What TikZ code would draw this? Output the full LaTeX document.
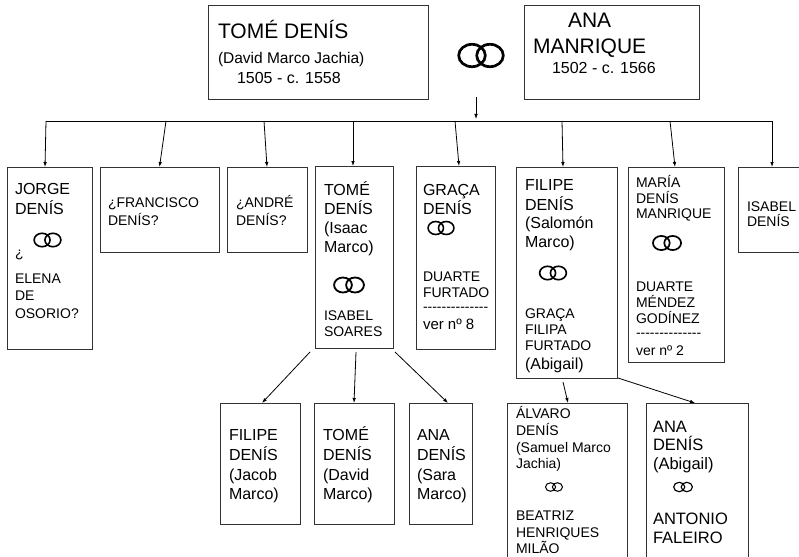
\documentclass[tikz,border=0pt]{standalone}
\usepackage{fontspec}
\setmainfont{Liberation Sans}
\usetikzlibrary{arrows.meta}
\tikzset{
  box/.style={draw=black!80, line width=0.9pt, inner sep=0pt, outer sep=0pt},
  tl/.style={anchor=base west, inner sep=0pt, outer sep=0pt, text=black},
  arr/.style={draw=black, line width=0.8pt, -{Latex[length=5pt,width=3.6pt]}},
  conn/.style={draw=black, line width=0.8pt}
}
\newcommand\fs[1]{\fontsize{#1}{#1}\selectfont}
\newcommand\hy{\hbox{-}}
\newcommand\dashrow{\hy\hy\hy\hy\hy\hy\hy\hy\hy\hy\hy\hy\hy\hy}
\newcommand\wedrings[3]{%
  \draw[line width=#3*2.7pt] (#1-#3*9,#2) ellipse [x radius=#3*13.3pt, y radius=#3*11.2pt];
  \draw[line width=#3*2.7pt] (#1+#3*9,#2) ellipse [x radius=#3*13.3pt, y radius=#3*11.2pt];
}
\begin{document}
\begin{tikzpicture}[x=1pt,y=-1pt]
\useasboundingbox (0,0) rectangle (799,556);
\fill[white] (0,0) rectangle (799,556);
\clip (0,0) rectangle (799,556);

% parents
\node[box, minimum width=220pt, minimum height=94pt] (tome) at (318,52) {};
\node[tl,font=\fs{21}] (tome1) at (218,39) {TOMÉ DENÍS};
\node[tl,font=\fs{15.5}] (tome2) at (218,64) {(David Marco Jachia)};
\node[tl,font=\fs{16}] (tome3) at (237,84) {1505 - c. 1558};

\node[box, minimum width=175pt, minimum height=94pt] (ana) at (611.5,52) {};
\node[tl,font=\fs{21}] (ana1) at (568,28) {ANA};
\node[tl,font=\fs{21}] (ana2) at (533,54) {MANRIQUE};
\node[tl,font=\fs{16}] (ana3) at (552,74) {1502 - c. 1566};

\wedrings{481}{55.5}{1}

% children boxes
\node[box, minimum width=85pt, minimum height=182pt] (jorge) at (49.5,258) {};
\node[box, minimum width=119pt, minimum height=85pt] (fran) at (159.5,209.5) {};
\node[box, minimum width=80pt, minimum height=85pt] (andre) at (267,209.5) {};
\node[box, minimum width=78pt, minimum height=182pt] (tomec) at (354,257) {};
\node[box, minimum width=79pt, minimum height=183pt] (graca) at (455.5,257.5) {};
\node[box, minimum width=101pt, minimum height=211pt] (filipe) at (566.5,272.5) {};
\node[box, minimum width=96pt, minimum height=195pt] (maria) at (676,264.5) {};
\node[box, minimum width=72pt, minimum height=85pt] (isabel) at (774,209.5) {};

% grandchildren boxes
\node[box, minimum width=80pt, minimum height=121pt] (gfilipe) at (260,463.5) {};
\node[box, minimum width=80pt, minimum height=121pt] (gtome) at (354,463.5) {};
\node[box, minimum width=63pt, minimum height=121pt] (gana) at (440.5,463.5) {};
\node[box, minimum width=120pt, minimum height=167pt] (alvaro) at (567,486.5) {};
\node[box, minimum width=102pt, minimum height=167pt] (anad) at (697,486.5) {};

% connectors
\coordinate (pa) at (476,97);
\coordinate (pb) at (476,119);
\draw[arr] (pa) -- (pb);
\coordinate (hl) at (46,121);
\coordinate (hr) at (772,121);
\draw[conn] (hl) -- (hr);
\coordinate (c2) at (166,121);
\coordinate (c3) at (264,121);
\coordinate (c4) at (353,121);
\coordinate (c5) at (455,121);
\coordinate (c6) at (562,121);
\coordinate (c7) at (670,121);
\draw[arr] (hl) -- ([xshift=-4.5pt]jorge.north);
\draw[arr] (c2) -- (fran.north);
\draw[arr] (c3) -- (andre.north);
\draw[arr] (c4) -- ([xshift=-1pt]tomec.north);
\draw[arr] (c5) -- ([xshift=3.5pt]graca.north);
\draw[arr] (c6) -- ([xshift=-3.5pt]filipe.north);
\draw[arr] (c7) -- ([xshift=-1pt]maria.north);
\draw[arr] (hr) -- ([xshift=-2pt]isabel.north);

\coordinate (t1) at (310,352);
\coordinate (t2) at (356,352);
\coordinate (t3) at (395,352);
\draw[arr] (t1) -- ([xshift=2pt]gfilipe.north);
\draw[arr] (t2) -- (gtome.north);
\draw[arr] (t3) -- ([xshift=7.5pt]gana.north);
\coordinate (f1) at (563,382);
\coordinate (f2) at (618,378);
\draw[arr] (f1) -- ([xshift=1pt]alvaro.north);
\draw[arr] (f2) -- ([xshift=-2pt]anad.north);

% JORGE
\node[tl,font=\fs{16}] (j1) at (15,194) {JORGE};
\node[tl,font=\fs{16}] (j2) at (15,214) {DENÍS};
\wedrings{47.5}{240}{0.6}
\node[tl,font=\fs{14}] (j3) at (15,257) {¿};
\node[tl,font=\fs{14}] (j4) at (15,283) {ELENA};
\node[tl,font=\fs{14}] (j5) at (15,300) {DE};
\node[tl,font=\fs{14}] (j6) at (15,318) {OSORIO?};

% FRANCISCO, ANDRE
\node[tl,font=\fs{14}] (fr1) at (108,207) {¿FRANCISCO};
\node[tl,font=\fs{14}] (fr2) at (108,225) {DENÍS?};
\node[tl,font=\fs{14}] (an1) at (236,207) {¿ANDRÉ};
\node[tl,font=\fs{14}] (an2) at (236,225) {DENÍS?};

% TOME child
\node[tl,font=\fs{16}] (tc1) at (324,195) {TOMÉ};
\node[tl,font=\fs{16}] (tc2) at (324,214) {DENÍS};
\node[tl,font=\fs{16}] (tc3) at (324,233) {(Isaac};
\node[tl,font=\fs{16}] (tc4) at (324,252) {Marco)};
\wedrings{349}{285}{0.67}
\node[tl,font=\fs{14}] (tc5) at (324,320) {ISABEL};
\node[tl,font=\fs{14}] (tc6) at (324,336) {SOARES};

% GRACA
\node[tl,font=\fs{16}] (g1) at (423,195) {GRAÇA};
\node[tl,font=\fs{16}] (g2) at (423,214) {DENÍS};
\wedrings{441}{228}{0.58}
\node[tl,font=\fs{14}] (g3) at (423,281) {DUARTE};
\node[tl,font=\fs{14}] (g4) at (423,297) {FURTADO};
\node[tl,font=\fs{14}] (g5) at (423,311) {\dashrow};
\node[tl,font=\fs{15}] (g6) at (423,329) {ver nº 8};

% FILIPE
\node[tl,font=\fs{16}] (fi1) at (525,190) {FILIPE};
\node[tl,font=\fs{16}] (fi2) at (525,210) {DENÍS};
\node[tl,font=\fs{16}] (fi3) at (525,228) {(Salomón};
\node[tl,font=\fs{16}] (fi4) at (525,247) {Marco)};
\wedrings{553}{273}{0.6}
\node[tl,font=\fs{14}] (fi5) at (525,318) {GRAÇA};
\node[tl,font=\fs{14}] (fi6) at (525,334) {FILIPA};
\node[tl,font=\fs{14}] (fi7) at (525,350) {FURTADO};
\node[tl,font=\fs{16}] (fi8) at (525,369) {(Abigail)};

% MARIA
\node[tl,font=\fs{14}] (m1) at (636,187) {MARÍA};
\node[tl,font=\fs{14}] (m2) at (636,203) {DENÍS};
\node[tl,font=\fs{14}] (m3) at (636,218) {MANRIQUE};
\wedrings{667}{243}{0.63}
\node[tl,font=\fs{14}] (m4) at (636,291) {DUARTE};
\node[tl,font=\fs{14}] (m5) at (636,307) {MÉNDEZ};
\node[tl,font=\fs{14}] (m6) at (636,323) {GODÍNEZ};
\node[tl,font=\fs{14}] (m7) at (636,337) {\dashrow};
\node[tl,font=\fs{14}] (m8) at (636,355) {ver nº 2};

% ISABEL
\node[tl,font=\fs{14}] (i1) at (747,211) {ISABEL};
\node[tl,font=\fs{14}] (i2) at (747,226) {DENÍS};

% grandchildren of Tome
\node[tl,font=\fs{16}] (gf1) at (229,440) {FILIPE};
\node[tl,font=\fs{16}] (gf2) at (229,460) {DENÍS};
\node[tl,font=\fs{16}] (gf3) at (229,480) {(Jacob};
\node[tl,font=\fs{16}] (gf4) at (229,499) {Marco)};
\node[tl,font=\fs{16}] (gt1) at (323,440) {TOMÉ};
\node[tl,font=\fs{16}] (gt2) at (323,460) {DENÍS};
\node[tl,font=\fs{16}] (gt3) at (323,480) {(David};
\node[tl,font=\fs{16}] (gt4) at (323,499) {Marco)};
\node[tl,font=\fs{16}] (ga1) at (417,440) {ANA};
\node[tl,font=\fs{16}] (ga2) at (417,460) {DENÍS};
\node[tl,font=\fs{16}] (ga3) at (417,480) {(Sara};
\node[tl,font=\fs{16}] (ga4) at (417,499) {Marco)};

% grandchildren of Filipe
\node[tl,font=\fs{14}] (al1) at (516,418) {ÁLVARO};
\node[tl,font=\fs{14}] (al2) at (516,435) {DENÍS};
\node[tl,font=\fs{14}] (al3) at (516,452) {(Samuel Marco};
\node[tl,font=\fs{14}] (al4) at (516,468) {Jachia)};
\wedrings{554}{487}{0.38}
\node[tl,font=\fs{14}] (al5) at (516,520) {BEATRIZ};
\node[tl,font=\fs{14}] (al6) at (516,537) {HENRIQUES};
\node[tl,font=\fs{14}] (al7) at (516,553) {MILÃO};

\node[tl,font=\fs{16.5}] (ad1) at (653,432) {ANA};
\node[tl,font=\fs{16.5}] (ad2) at (653,450) {DENÍS};
\node[tl,font=\fs{16.5}] (ad3) at (653,469) {(Abigail)};
\wedrings{683}{487}{0.42}
\node[tl,font=\fs{16.5}] (ad4) at (653,524) {ANTONIO};
\node[tl,font=\fs{16.5}] (ad5) at (653,543) {FALEIRO};
\end{tikzpicture}
\end{document}
